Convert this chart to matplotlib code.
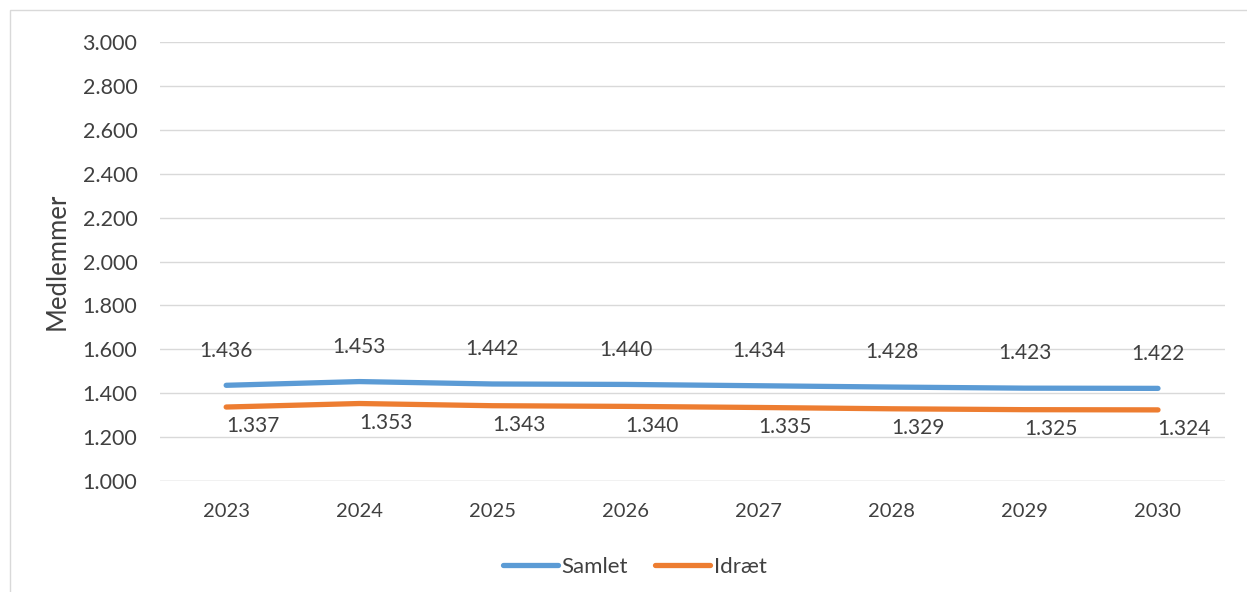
import matplotlib
matplotlib.use("Agg")
import matplotlib.pyplot as plt
from matplotlib.patches import Rectangle

# Data
aar = ["2023", "2024", "2025", "2026", "2027", "2028", "2029", "2030"]
samlet = [1436, 1453, 1442, 1440, 1434, 1428, 1423, 1422]
idraet = [1337, 1353, 1343, 1340, 1335, 1329, 1325, 1324]
yticks = [1000, 1200, 1400, 1600, 1800, 2000, 2200, 2400, 2600, 2800, 3000]

BLAA = "#5B9BD5"
ORANGE = "#ED7D31"
TEKST = "#404040"

plt.rcParams["font.family"] = ["Lato", "DejaVu Sans"]

def fmt(v):
    # dansk tusindtalsseparator
    return f"{v/1000:.3f}"

fig = plt.figure(figsize=(12.47, 5.92), dpi=100)
ax = fig.add_axes([0.128, 0.1875, 0.854, 0.7415])

x = list(range(len(aar)))
ax.plot(x, samlet, color=BLAA, lw=3.8, solid_capstyle="round", label="Samlet")
ax.plot(x, idraet, color=ORANGE, lw=3.8, solid_capstyle="round", label="Idræt")

for i, v in enumerate(samlet):
    ax.annotate(fmt(v), (i, v), xytext=(0, 25), textcoords="offset points",
                ha="center", va="center", fontsize=15, color=TEKST)
for i, v in enumerate(idraet):
    ax.annotate(fmt(v), (i, v), xytext=(19, -14), textcoords="offset points",
                ha="center", va="center", fontsize=15, color=TEKST)

ax.set_xlim(-0.5, len(aar) - 0.5)
ax.set_ylim(1000, 3000)
ax.set_yticks(yticks)
ax.set_yticklabels([fmt(v) for v in yticks])
ax.set_xticks(x)
ax.set_xticklabels(aar)
ax.tick_params(length=0, labelsize=14.5, colors=TEKST, pad=16)
ax.tick_params(axis="y", labelsize=15.5, pad=16)
ax.grid(axis="y", color="#D9D9D9", lw=1)
ax.set_axisbelow(True)
for s in ax.spines.values():
    s.set_visible(False)
ax.axhline(1000, color="#D9D9D9", lw=1)

ax.set_ylabel("Medlemmer", fontsize=18.5, color=TEKST, labelpad=9)

fig.legend(loc="center", bbox_to_anchor=(0.509, 0.042), ncol=2, frameon=False,
           fontsize=16, handlelength=2.5, columnspacing=1.2, handletextpad=0.15,
           labelcolor=TEKST)

# ramme rundt om diagrammet
fig.patches.append(Rectangle((0.008, -0.01), 1.0, 0.993, transform=fig.transFigure,
                             fill=False, edgecolor="#D9D9D9", lw=1))

fig.savefig("out.png", dpi=100)
